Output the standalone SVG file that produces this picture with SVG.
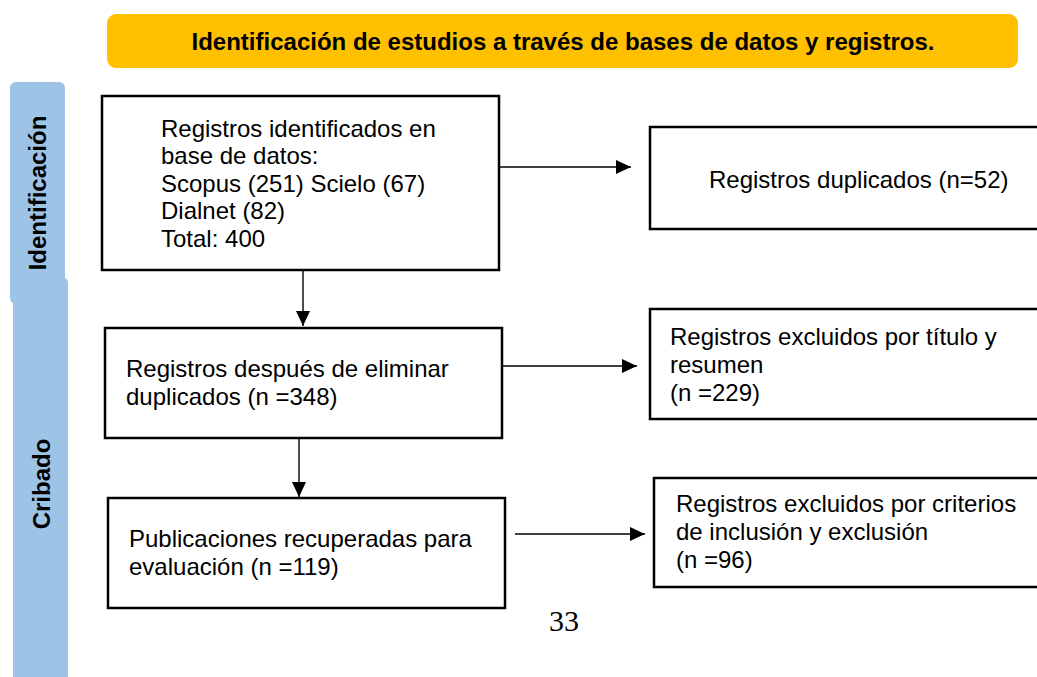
<svg xmlns="http://www.w3.org/2000/svg" width="1037" height="677" viewBox="0 0 1037 677">
<style>
.box{fill:#fff;stroke:#000;stroke-width:2.5}
.t{font-family:"Liberation Sans",Arial,sans-serif;font-size:24px;fill:#000}
.b{font-family:"Liberation Sans",Arial,sans-serif;font-size:24px;font-weight:bold;fill:#000}
.side{fill:#9DC3E6}
.c{stroke:#000;stroke-width:1.4;fill:none;marker-end:url(#ah)}
</style>
<defs>
<marker id="ah" viewBox="0 0 15 14" refX="15" refY="7" markerWidth="15" markerHeight="14" markerUnits="userSpaceOnUse" orient="auto">
<path d="M0,0 L15,7 L0,14 z" fill="#000"/>
</marker>
</defs>
<rect width="1037" height="677" fill="#fff"/>
<g id="header">
<rect x="107" y="14" width="911" height="54" rx="9" fill="#FFC000"/>
<text class="b" x="563" y="50" text-anchor="middle">Identificación de estudios a través de bases de datos y registros.</text>
</g>
<g id="lane-cribado">
<rect class="side" x="13" y="277" width="55" height="410" rx="6"/>
<text class="b" transform="translate(50,484) rotate(-90)" text-anchor="middle">Cribado</text>
</g>
<g id="lane-identificacion">
<rect class="side" x="10" y="82" width="55" height="222" rx="6"/>
<text class="b" transform="translate(46,193) rotate(-90)" text-anchor="middle">Identificación</text>
</g>
<g id="connectors">
<line class="c" x1="499" y1="167" x2="631" y2="167"/>
<line class="c" x1="499" y1="366" x2="637" y2="366"/>
<line class="c" x1="515" y1="534" x2="645" y2="534"/>
<line class="c" x1="303" y1="270" x2="303" y2="326"/>
<line class="c" x1="299" y1="438" x2="299" y2="497"/>
</g>
<g id="n1">
<rect class="box" x="102" y="96" width="397" height="174"/>
<text class="t" x="161" y="137">Registros identificados en</text>
<text class="t" x="161" y="164">base de datos:</text>
<text class="t" x="161" y="192">Scopus (251) Scielo (67)</text>
<text class="t" x="161" y="219">Dialnet (82)</text>
<text class="t" x="161" y="247">Total: 400</text>
</g>
<g id="n2">
<rect class="box" x="650" y="127" width="400" height="102"/>
<text class="t" x="709" y="188">Registros duplicados (n=52)</text>
</g>
<g id="n3">
<rect class="box" x="105" y="328" width="397" height="110"/>
<text class="t" x="126" y="377">Registros después de eliminar</text>
<text class="t" x="126" y="405">duplicados (n =348)</text>
</g>
<g id="n4">
<rect class="box" x="650" y="309" width="400" height="110"/>
<text class="t" x="670" y="345">Registros excluidos por título y</text>
<text class="t" x="670" y="373">resumen</text>
<text class="t" x="670" y="401">(n =229)</text>
</g>
<g id="n5">
<rect class="box" x="108" y="498" width="397" height="110"/>
<text class="t" x="129" y="547">Publicaciones recuperadas para</text>
<text class="t" x="129" y="575">evaluación (n =119)</text>
</g>
<g id="n6">
<rect class="box" x="654" y="478" width="400" height="109"/>
<text class="t" x="676" y="512">Registros excluidos por criterios</text>
<text class="t" x="676" y="540">de inclusión y exclusión</text>
<text class="t" x="676" y="568">(n =96)</text>
</g>
<text x="564" y="631" font-family="Liberation Serif,'Times New Roman',serif" font-size="30" text-anchor="middle" fill="#000">33</text>
</svg>
